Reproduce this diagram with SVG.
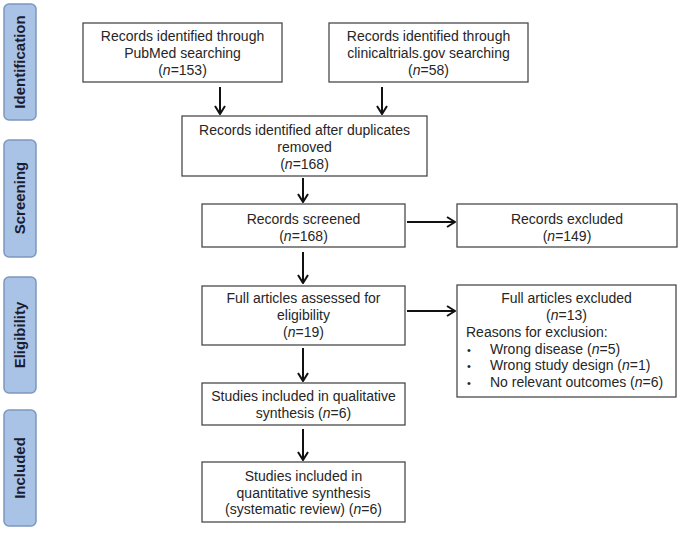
<svg xmlns="http://www.w3.org/2000/svg" width="680" height="535" viewBox="0 0 680 535">
<defs>
<style>
.box{fill:#fff;stroke:#4a4a4a;stroke-width:1.3}
.t{font-family:"Liberation Sans",Arial,sans-serif;font-size:14px;fill:#262626}
.c{text-anchor:middle}
.b{font-size:11px}
.side{fill:#a8c3e6;stroke:#7d97bd;stroke-width:1.5}
.st{font-family:"Liberation Sans",Arial,sans-serif;font-size:15px;font-weight:bold;fill:#1c1c30;text-anchor:middle}
.arr{stroke:#111;stroke-width:2;fill:none;marker-end:url(#ah)}
</style>
<marker id="ah" viewBox="0 0 10 12" refX="9" refY="6" markerWidth="5" markerHeight="6" orient="auto" markerUnits="strokeWidth">
<path d="M1,1 L9,6 L1,11" fill="none" stroke="#111" stroke-width="2"/>
</marker>
</defs>
<g id="stage-identification"><rect class="side" x="4" y="4" width="32" height="116" rx="5"/><text class="st" transform="translate(25,62) rotate(-90)">Identification</text></g>
<g id="stage-screening"><rect class="side" x="4" y="140" width="32" height="117" rx="5"/><text class="st" transform="translate(25,198) rotate(-90)">Screening</text></g>
<g id="stage-eligibility"><rect class="side" x="4" y="277" width="32" height="116" rx="5"/><text class="st" transform="translate(25,335) rotate(-90)">Eligibility</text></g>
<g id="stage-included"><rect class="side" x="4" y="410" width="32" height="116" rx="5"/><text class="st" transform="translate(25,468) rotate(-90)">Included</text></g>

<g id="pubmed"><rect class="box" x="83" y="23" width="199" height="59"/>
<text class="t c" x="182.5" y="41">Records identified through</text>
<text class="t c" x="182.5" y="58">PubMed searching</text>
<text class="t c" x="182.5" y="75">(<tspan font-style="italic">n</tspan>=153)</text></g>

<g id="clinicaltrials"><rect class="box" x="329" y="23" width="199" height="59"/>
<text class="t c" x="428.5" y="41">Records identified through</text>
<text class="t c" x="428.5" y="58">clinicaltrials.gov searching</text>
<text class="t c" x="428.5" y="75">(<tspan font-style="italic">n</tspan>=58)</text></g>

<g id="duplicates"><rect class="box" x="182" y="116" width="245" height="60"/>
<text class="t c" x="304.5" y="135">Records identified after duplicates</text>
<text class="t c" x="304.5" y="152">removed</text>
<text class="t c" x="304.5" y="169">(<tspan font-style="italic">n</tspan>=168)</text></g>

<g id="screened"><rect class="box" x="202" y="204" width="203" height="43"/>
<text class="t c" x="303.5" y="224">Records screened</text>
<text class="t c" x="303.5" y="241">(<tspan font-style="italic">n</tspan>=168)</text></g>

<g id="excluded"><rect class="box" x="457" y="204" width="220" height="43"/>
<text class="t c" x="567" y="224">Records excluded</text>
<text class="t c" x="567" y="241">(<tspan font-style="italic">n</tspan>=149)</text></g>

<g id="fulltext"><rect class="box" x="202" y="286" width="203" height="59"/>
<text class="t c" x="303.5" y="303">Full articles assessed for</text>
<text class="t c" x="303.5" y="320">eligibility</text>
<text class="t c" x="303.5" y="337">(<tspan font-style="italic">n</tspan>=19)</text></g>

<g id="fulltext-excluded"><rect class="box" x="457" y="285" width="219" height="112"/>
<text class="t c" x="566.5" y="303">Full articles excluded</text>
<text class="t c" x="566.5" y="320">(<tspan font-style="italic">n</tspan>=13)</text>
<text class="t" x="466" y="337">Reasons for exclusion:</text>
<text class="t b" x="467" y="353.5">•</text><text class="t" x="490" y="353.5">Wrong disease (<tspan font-style="italic">n</tspan>=5)</text>
<text class="t b" x="467" y="370">•</text><text class="t" x="490" y="370">Wrong study design (<tspan font-style="italic">n</tspan>=1)</text>
<text class="t b" x="467" y="387">•</text><text class="t" x="490" y="387">No relevant outcomes (<tspan font-style="italic">n</tspan>=6)</text></g>

<g id="qualitative"><rect class="box" x="202" y="383" width="203" height="42"/>
<text class="t c" x="303.5" y="401">Studies included in qualitative</text>
<text class="t c" x="303.5" y="418">synthesis (<tspan font-style="italic">n</tspan>=6)</text></g>

<g id="quantitative"><rect class="box" x="202" y="462" width="203" height="60"/>
<text class="t c" x="303.5" y="481">Studies included in</text>
<text class="t c" x="303.5" y="497.5">quantitative synthesis</text>
<text class="t c" x="303.5" y="514">(systematic review) (<tspan font-style="italic">n</tspan>=6)</text></g>

<g id="connectors">
<line class="arr" x1="220" y1="87" x2="220" y2="114"/>
<line class="arr" x1="382" y1="87" x2="382" y2="114"/>
<line class="arr" x1="303" y1="178" x2="303" y2="202"/>
<line class="arr" x1="303" y1="252" x2="303" y2="283"/>
<line class="arr" x1="407" y1="222" x2="455" y2="222"/>
<line class="arr" x1="303" y1="348" x2="303" y2="381"/>
<line class="arr" x1="407" y1="311" x2="455" y2="311"/>
<line class="arr" x1="303" y1="429" x2="303" y2="460"/>
</g>
</svg>
